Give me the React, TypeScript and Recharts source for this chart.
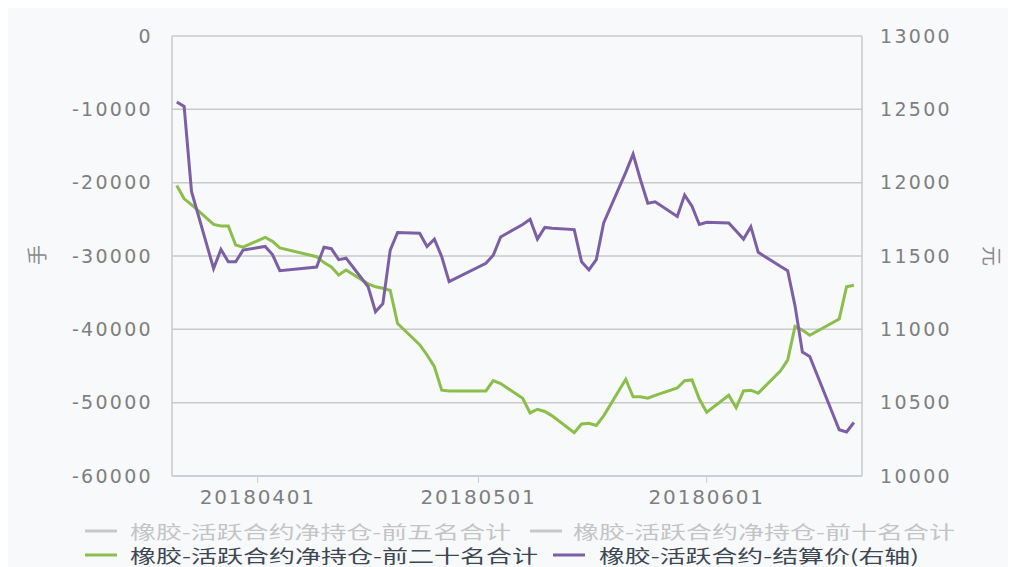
import React from 'react';
import { LineChart, Line, XAxis, YAxis, CartesianGrid } from 'recharts';

const dates = [
  '20180321', '20180322', '20180323', '20180326', '20180327', '20180328', '20180329', '20180330',
  '20180402', '20180403', '20180404', '20180409', '20180410', '20180411', '20180412', '20180413',
  '20180416', '20180417', '20180418', '20180419', '20180420', '20180423', '20180424', '20180425',
  '20180426', '20180427', '20180502', '20180503', '20180504', '20180507', '20180508', '20180509',
  '20180510', '20180511', '20180514', '20180515', '20180516', '20180517', '20180518', '20180521',
  '20180522', '20180523', '20180524', '20180525', '20180528', '20180529', '20180530', '20180531',
  '20180601', '20180604', '20180605', '20180606', '20180607', '20180608', '20180611', '20180612',
  '20180613', '20180614', '20180615', '20180619', '20180620', '20180621',
];

// 橡胶-活跃合约净持仓-前二十名合计 (手)
const top20Net = [
  -20400, -22200, -23000, -25700, -25900, -25900, -28500, -28800,
  -27450, -28000, -28900, -30100, -30900, -31500, -32600, -31900,
  -33800, -34200, -34400, -34700, -39200, -42100, -43500, -45100,
  -48300, -48400, -48400, -47000, -47400, -49400, -51400, -50900,
  -51200, -51800, -54100, -52900, -52800, -53100, -51800, -46800,
  -49200, -49200, -49400, -49000, -48000, -47000, -46900, -49500,
  -51300, -49000, -50700, -48400, -48300, -48700, -45700, -44200,
  -39600, -40100, -40800, -38600, -34200, -34000,
];

// 橡胶-活跃合约-结算价 (元, 右轴)
const settlePrice = [
  12550, 12520, 11940, 11415, 11545, 11460, 11460, 11540,
  11565, 11510, 11400, 11425, 11560, 11550, 11475, 11485,
  11290, 11120, 11175, 11540, 11660, 11655, 11565, 11615,
  11495, 11325, 11450, 11505, 11630, 11715, 11750, 11615,
  11695, 11690, 11680, 11460, 11405, 11475, 11725, 12070,
  12195, 12020, 11860, 11870, 11770, 11915, 11840, 11715,
  11730, 11725, 11670, 11615, 11700, 11525, 11430, 11400,
  11160, 10845, 10815, 10315, 10300, 10365,
];

const xTickDates = ['20180401', '20180501', '20180601'];
const leftTicks = [0, -10000, -20000, -30000, -40000, -50000, -60000];
const rightTicks = [10000, 10500, 11000, 11500, 12000, 12500, 13000];

const legendItems = [
  { name: '橡胶-活跃合约净持仓-前五名合计', color: '#c8c8c8', text: '#c4c4c4' },
  { name: '橡胶-活跃合约净持仓-前十名合计', color: '#c8c8c8', text: '#c4c4c4' },
  { name: '橡胶-活跃合约净持仓-前二十名合计', color: '#8cbe4b', text: '#3d4752' },
  { name: '橡胶-活跃合约-结算价(右轴)', color: '#7d5fa5', text: '#3d4752' },
];

const BASE = Date.UTC(2018, 3, 1);
const toDay = (s: string) =>
  (Date.UTC(+s.slice(0, 4), +s.slice(4, 6) - 1, +s.slice(6, 8)) - BASE) / 86400000;

const rows = dates.map((d, i) => ({
  day: toDay(d),
  top20: top20Net[i],
  price: settlePrice[i],
}));

const xTicks = xTickDates.map(toDay);
const fmtDay = (v: number) => xTickDates[xTicks.indexOf(v)] ?? '';

const tickFill = '#7f7f7f';
const numFont = '"DejaVu Sans", Verdana, sans-serif';
const cjkFont = '"Noto Sans CJK SC", "Noto Sans", sans-serif';

const YTick = (props: any) => {
  const { x, y, payload, textAnchor } = props;
  return (
    <text x={x} y={y} dy="0.355em" textAnchor={textAnchor} fill={tickFill}
      style={{ fontFamily: numFont, fontSize: 19, letterSpacing: 2.3 }}>
      {payload.value}
    </text>
  );
};

const XTick = (props: any) => {
  const { x, y, payload } = props;
  return (
    <text x={x} y={y} dy="0.71em" textAnchor="middle" fill={tickFill}
      style={{ fontFamily: numFont, fontSize: 20, letterSpacing: 1.8 }}>
      {fmtDay(payload.value)}
    </text>
  );
};

// legend layout (two rows, two items per row)
const legendPos = [
  { sx: 77, tx: 122, y: 523, len: 381 },
  { sx: 522, tx: 565, y: 523, len: 382 },
  { sx: 77, tx: 122, y: 547, len: 408 },
  { sx: 545, tx: 591, y: 547, len: 320 },
];

export default function App() {
  return (
    <div style={{ position: 'relative', width: 1000, height: 559, background: '#f8f9fb' }}>
      <LineChart width={1000} height={508} data={rows}
        margin={{ top: 28, right: 46, bottom: 0, left: 64 }}>
        <CartesianGrid vertical={false} stroke="#cacaca" strokeWidth={1.5} />
        <XAxis dataKey="day" type="number" domain={[-11.65, 82.1]} ticks={xTicks}
          height={40} tickSize={7} tickMargin={7} interval={0}
          stroke="#c3cfdb" axisLine={{ stroke: '#c3cfdb', strokeWidth: 1.5 }}
          tick={(p: any) => <XTick {...p} />} />
        <YAxis domain={[-60000, 0]} ticks={leftTicks} width={100} interval={0}
          tickLine={false} tickSize={0} tickMargin={19}
          axisLine={{ stroke: '#c8c8c8', strokeWidth: 1.5 }}
          tick={(p: any) => <YTick {...p} />} />
        <YAxis yAxisId="right" orientation="right" domain={[10000, 13000]} ticks={rightTicks}
          width={100} interval={0} tickLine={false} tickSize={0} tickMargin={18}
          axisLine={{ stroke: '#c8c8c8', strokeWidth: 1.5 }}
          tick={(p: any) => <YTick {...p} />} />
        <Line dataKey="top20" stroke="#8cbe4b" strokeWidth={3} dot={false}
          isAnimationActive={false} />
        <Line dataKey="price" yAxisId="right" stroke="#7d5fa5" strokeWidth={3} dot={false}
          isAnimationActive={false} />
      </LineChart>
      <svg width={1000} height={559}
        style={{ position: 'absolute', left: 0, top: 0, pointerEvents: 'none' }}>
        <text x={28} y={247} transform="rotate(-90 28 247)" textAnchor="middle"
          dominantBaseline="central" fill="#8a8a8a"
          style={{ fontFamily: cjkFont, fontSize: 20 }}>手</text>
        <text x={984} y={248} transform="rotate(90 984 248)" textAnchor="middle"
          dominantBaseline="central" fill="#8a8a8a"
          style={{ fontFamily: cjkFont, fontSize: 20 }}>元</text>
        {legendItems.map((it, i) => {
          const p = legendPos[i];
          return (
            <g key={it.name}>
              <line x1={p.sx} x2={p.sx + 32} y1={p.y} y2={p.y} stroke={it.color} strokeWidth={3} />
              <text x={p.tx} y={p.y} dominantBaseline="central" fill={it.text}
                textLength={p.len} lengthAdjust="spacingAndGlyphs"
                style={{ fontFamily: cjkFont, fontSize: 18 }}>{it.name}</text>
            </g>
          );
        })}
      </svg>
    </div>
  );
}
